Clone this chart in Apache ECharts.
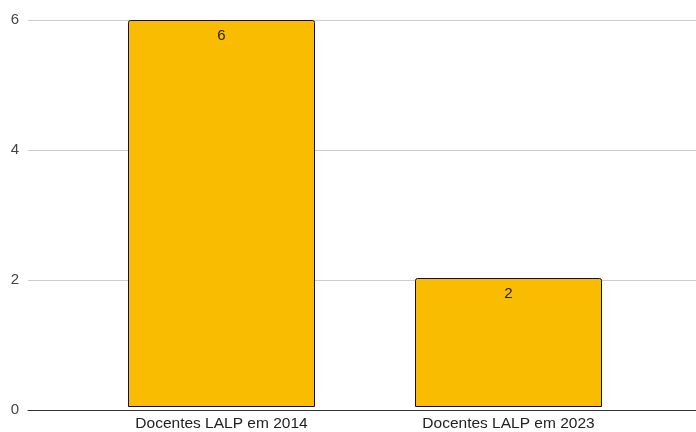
<!DOCTYPE html>
<html>
<head>
<meta charset="utf-8">
<script src="https://cdn.jsdelivr.net/npm/echarts@6/dist/echarts.min.js"></script>
<style>
  html, body { margin: 0; padding: 0; background: #fff; }
  #chart { width: 696px; height: 432px; }
</style>
</head>
<body>
<div id="chart"></div>
<script>
// data
const categories = ['Docentes LALP em 2014', 'Docentes LALP em 2023'];
const values = [6, 2];

const chart = echarts.init(document.getElementById('chart'));
const font = 'Arial, "Liberation Sans", sans-serif';

const option = {
    backgroundColor: '#ffffff',
    animation: false,
    grid: [
        // grid 0: gridlines + y labels, full width
        { left: 28, right: 0, top: 20, bottom: 22 },
        // grid 1: bars, narrower so categories sit where they do in the original
        { left: 78, right: 44, top: 20, bottom: 22 }
    ],
    xAxis: [
        {
            gridIndex: 0, type: 'value', min: 0, max: 1,
            axisLabel: { show: false }, axisTick: { show: false }, splitLine: { show: false },
            axisLine: { show: true, onZero: false, lineStyle: { color: '#333', width: 1 } }
        },
        {
            gridIndex: 1, type: 'category', data: categories,
            axisLine: { show: false }, axisTick: { show: false },
            axisLabel: { color: '#222', fontSize: 15.5, fontFamily: font, margin: 9 }
        }
    ],
    yAxis: [
        {
            gridIndex: 0, type: 'value', min: 0, max: 6, interval: 2,
            axisLine: { show: false }, axisTick: { show: false },
            axisLabel: { color: '#444', fontSize: 15, fontFamily: font, margin: 9 },
            splitLine: { lineStyle: { color: '#cccccc', width: 1 } }
        },
        {
            gridIndex: 1, type: 'value', min: 0, max: 6, show: false
        }
    ],
    series: [
        {
            type: 'bar',
            xAxisIndex: 1, yAxisIndex: 1,
            data: values,
            barWidth: 187,
            itemStyle: { color: '#F9BC00', borderColor: '#111', borderWidth: 1, borderRadius: [2, 2, 0, 0] },
            label: {
                show: true, position: 'insideTop', distance: 8,
                color: '#222', fontSize: 15, fontFamily: font
            }
        }
    ]
};
chart.setOption(option);
</script>
</body>
</html>
